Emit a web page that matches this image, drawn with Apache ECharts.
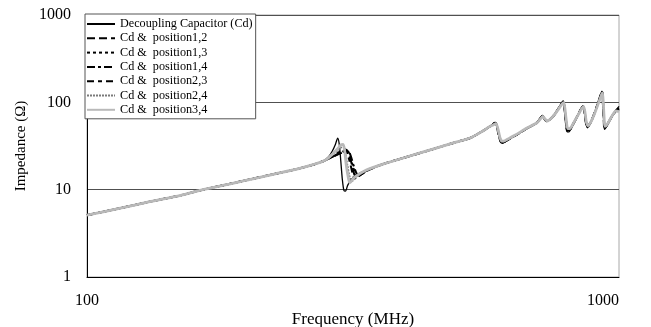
<!DOCTYPE html>
<html>
<head>
<meta charset="utf-8">
<script src="https://cdn.jsdelivr.net/npm/echarts@6/dist/echarts.min.js"></script>
<style>
  html, body { margin: 0; padding: 0; background: #fff; }
  #chart { width: 651px; height: 327px; }
</style>
</head>
<body>
<div id="chart"></div>
<script>
// Impedance vs frequency for the decoupling capacitor alone and with each pair of positions.

const seriesNames = [
  'Decoupling Capacitor (Cd)',
  'Cd &  position1,2',
  'Cd &  position1,3',
  'Cd &  position1,4',
  'Cd &  position2,3',
  'Cd &  position2,4',
  'Cd &  position3,4'
];

const xTicks = [100, 1000];
const yTicks = [1, 10, 100, 1000];

// Common inductive slope below the first resonance, [MHz, ohm]
const lowBand = [[100, 5.1], [115, 6.1], [130, 7.2], [150, 8.6], [165, 10], [185, 11.6],
  [200, 12.9], [225, 15.1], [250, 17.4], [265, 19.2], [277, 21]];

// Common rise between the first and second resonance
const midBand = [[360, 19.6], [400, 23.8], [450, 29.5], [490, 34.5], [525, 39], [555, 47], [572, 53]];

// First resonance near 300 MHz, one array per configuration
const resCd = [[284, 23.5], [289, 27.5], [293, 33], [296, 39], [298, 33], [300, 21], [302, 13], [304, 9.8],
  [306, 9.6], [309, 11.2], [313, 12.8], [320, 14.6], [335, 16.8]];
const res12 = [[284, 22.5], [292, 24.5], [300, 26.5], [305, 28], [308, 28.5], [311, 25], [315, 19], [318, 15],
  [321, 14], [326, 14.6], [335, 16.5]];
const res13 = [[284, 22.5], [292, 24.5], [300, 26.5], [306, 27.8], [309, 28], [312, 25], [316, 19], [320, 15.2],
  [323, 14.3], [328, 15], [335, 16.4]];
const res14 = [[284, 22.5], [292, 24.3], [300, 26.2], [307, 27.4], [310, 27.5], [313, 24.5], [317, 19], [321, 15.4],
  [324, 14.5], [329, 15.1], [335, 16.3]];
const res23 = [[284, 22.6], [292, 24.8], [299, 27.5], [303, 28.8], [306, 29], [309, 25.5], [313, 19], [316, 15],
  [319, 13.5], [325, 14.6], [335, 16.6]];
const res24 = [[284, 22.8], [291, 25.5], [297, 28.5], [301, 30.5], [304, 31], [306, 27], [309, 19], [312, 14],
  [315, 12.5], [321, 14], [335, 16.7]];
const res34 = [[284, 23], [290, 26], [296, 29.5], [300, 32.5], [303, 33], [305, 28], [307, 19.5], [310, 13.5],
  [312, 12], [318, 13.8], [335, 16.8]];

// Upper band resonances, 580 MHz to 1 GHz
const highCd = [[580, 57], [585, 59], [589, 54], [594, 42], [599, 35], [604, 34], [614, 36], [640, 42], [670, 50],
  [700, 58], [712, 67], [717, 71], [722, 67], [731, 60], [742, 64], [755, 72], [768, 84], [778, 96], [785, 104],
  [789, 88], [794, 60], [799, 46], [805, 46], [818, 55], [835, 70], [848, 84], [856, 91], [861, 78], [866, 58],
  [872, 51], [885, 59], [902, 80], [917, 108], [925, 126], [929, 134], [932, 104], [936, 62], [939, 49], [950, 54],
  [967, 67], [985, 80], [1000, 90]];
const high12 = [[580, 56], [586, 58], [590, 53], [595, 42], [600, 35.5], [605, 35], [615, 37], [640, 42], [670, 50],
  [700, 58], [713, 66], [718, 70], [723, 66], [732, 60.5], [743, 64.5], [756, 72], [769, 84], [779, 95], [786, 101],
  [790, 87], [795, 61], [800, 48], [806, 48], [819, 56], [836, 70], [849, 84], [857, 90], [862, 78], [867, 59],
  [873, 53], [886, 60], [903, 80], [918, 107], [926, 124], [930, 131], [933, 103], [937, 63], [940, 51], [951, 56],
  [968, 68], [986, 79], [1000, 84]];
const high13 = [[580, 56], [586, 58], [590, 53], [595, 42], [600, 35.5], [606, 35], [616, 37], [640, 42], [670, 50],
  [700, 58], [713, 66], [718, 69.5], [723, 66], [732, 61], [743, 64.5], [756, 72], [769, 84], [779, 95], [786, 100],
  [790, 87], [795, 62], [800, 49], [807, 49], [820, 56], [836, 70], [849, 84], [857, 89], [862, 78], [867, 60],
  [873, 54], [886, 60], [903, 80], [918, 106], [926, 123], [930, 130], [933, 103], [937, 64], [940, 52], [951, 56],
  [968, 68], [986, 79], [1000, 83]];
const high14 = [[580, 56], [586, 58], [590, 53], [595, 42], [601, 35.5], [606, 35], [616, 37], [640, 42], [670, 50],
  [700, 58], [713, 66], [718, 69.5], [723, 66], [732, 61], [743, 64.5], [756, 72], [769, 84], [779, 94], [786, 100],
  [790, 87], [795, 62], [801, 49], [807, 49], [820, 56], [836, 70], [849, 84], [857, 89], [862, 78], [867, 60],
  [873, 54], [886, 60], [903, 80], [918, 106], [926, 123], [930, 130], [933, 103], [937, 64], [940, 52], [951, 56],
  [968, 68], [986, 79], [1000, 82]];
const high23 = [[580, 56.5], [585, 58.5], [589, 53.5], [594, 42], [599, 35.5], [605, 34.5], [615, 36.5], [640, 42],
  [670, 50], [700, 58], [712, 66.5], [717, 70.5], [722, 66.5], [731, 60.5], [742, 64], [755, 72], [768, 84],
  [778, 95], [785, 102], [789, 88], [794, 61], [799, 47], [806, 47], [818, 55], [835, 70], [848, 84], [856, 90],
  [861, 78], [866, 59], [872, 52], [885, 59], [902, 80], [917, 107], [925, 125], [929, 132], [932, 104], [936, 63],
  [939, 50], [950, 55], [967, 67], [985, 80], [1000, 86]];
const high24 = [[580, 55.5], [587, 57.5], [591, 51], [596, 41], [601, 36], [606, 35.5], [617, 37.5], [640, 42.3],
  [670, 50.3], [700, 58], [714, 66], [719, 69], [724, 66], [733, 61], [744, 65], [757, 73], [770, 84], [780, 94],
  [787, 99], [791, 86], [796, 62], [801, 50], [808, 50], [820, 57], [837, 71], [850, 84], [858, 89], [863, 77],
  [868, 60], [874, 54], [887, 61], [904, 80], [919, 106], [927, 122], [931, 128], [934, 102], [938, 64], [941, 53],
  [952, 57], [969, 69], [987, 80], [1000, 80]];
const high34 = [[580, 55], [587, 57], [592, 50], [597, 40], [602, 36], [607, 36], [618, 38], [640, 42.5], [670, 50.5],
  [700, 58], [714, 66], [719, 69], [724, 66], [733, 61], [744, 65], [757, 73], [770, 84], [780, 94], [787, 99],
  [791, 86], [796, 62], [801, 50], [808, 50], [820, 57], [837, 71], [850, 84], [858, 89], [863, 77], [868, 60],
  [874, 54], [887, 61], [904, 80], [919, 106], [927, 122], [931, 128], [934, 102], [938, 64], [941, 53], [952, 57],
  [969, 69], [987, 80], [1000, 78]];

const curves = [
  lowBand.concat(resCd, midBand, highCd),
  lowBand.concat(res12, midBand, high12),
  lowBand.concat(res13, midBand, high13),
  lowBand.concat(res14, midBand, high14),
  lowBand.concat(res23, midBand, high23),
  lowBand.concat(res24, midBand, high24),
  lowBand.concat(res34, midBand, high34)
];

const lineStyles = [
  { color: '#000000', width: 1.3, type: 'solid' },
  { color: '#000000', width: 2, type: [8, 4] },
  { color: '#000000', width: 1.6, type: [3, 3] },
  { color: '#000000', width: 2, type: [8, 3, 3, 3] },
  { color: '#000000', width: 2, type: [7, 4, 4, 4] },
  { color: '#7a7a7a', width: 1.4, type: [2, 1] },
  { color: '#b9b9b9', width: 2.8, type: 'solid' }
];

const FONT = 'Liberation Serif';

const chart = echarts.init(document.getElementById('chart'), null, { renderer: 'canvas' });

chart.setOption({
  animation: false,
  backgroundColor: '#ffffff',
  grid: {
    left: 87, right: 32, top: 15, bottom: 50,
    outerBoundsMode: 'none',
    show: true, borderColor: '#a8a8a8', borderWidth: 1
  },
  legend: {
    orient: 'vertical',
    left: 85, top: 14,
    padding: [4, 3, 3, 1],
    itemWidth: 28, itemHeight: 12, itemGap: 2.3,
    backgroundColor: '#ffffff',
    borderColor: '#555555', borderWidth: 1,
    itemStyle: { opacity: 0 },
    textStyle: { fontFamily: FONT, fontSize: 12.2, color: '#000' },
    data: seriesNames
  },
  xAxis: {
    type: 'log', logBase: 10, min: xTicks[0], max: xTicks[xTicks.length - 1],
    name: 'Frequency (MHz)', nameLocation: 'middle', nameGap: 34,
    nameMoveOverlap: false,
    nameTextStyle: { fontFamily: FONT, fontSize: 17, color: '#000' },
    axisLine: { lineStyle: { color: '#000', width: 1 } },
    axisTick: { show: false },
    splitLine: { show: false },
    axisLabel: {
      fontFamily: FONT, fontSize: 16, color: '#000', margin: 16,
      alignMaxLabel: 'right',
      formatter: v => String(Math.round(v))
    }
  },
  yAxis: {
    type: 'log', logBase: 10, min: yTicks[0], max: yTicks[yTicks.length - 1],
    name: 'Impedance (Ω)', nameLocation: 'middle', nameGap: 58, nameRotate: 90,
    nameMoveOverlap: false,
    nameTextStyle: { fontFamily: FONT, fontSize: 15, color: '#000' },
    axisLine: { show: true, lineStyle: { color: '#000', width: 1 } },
    axisTick: { show: false },
    splitLine: { show: true, lineStyle: { color: '#505050', width: 1 } },
    axisLabel: {
      fontFamily: FONT, fontSize: 16, color: '#000', margin: 16,
      formatter: v => String(Math.round(v))
    }
  },
  series: seriesNames.map((name, i) => ({
    name,
    type: 'line',
    data: curves[i],
    symbol: 'none',
    smooth: 0.25,
    lineStyle: lineStyles[i],
    itemStyle: { color: lineStyles[i].color },
    z: 2 + i
  }))
});
</script>
</body>
</html>
